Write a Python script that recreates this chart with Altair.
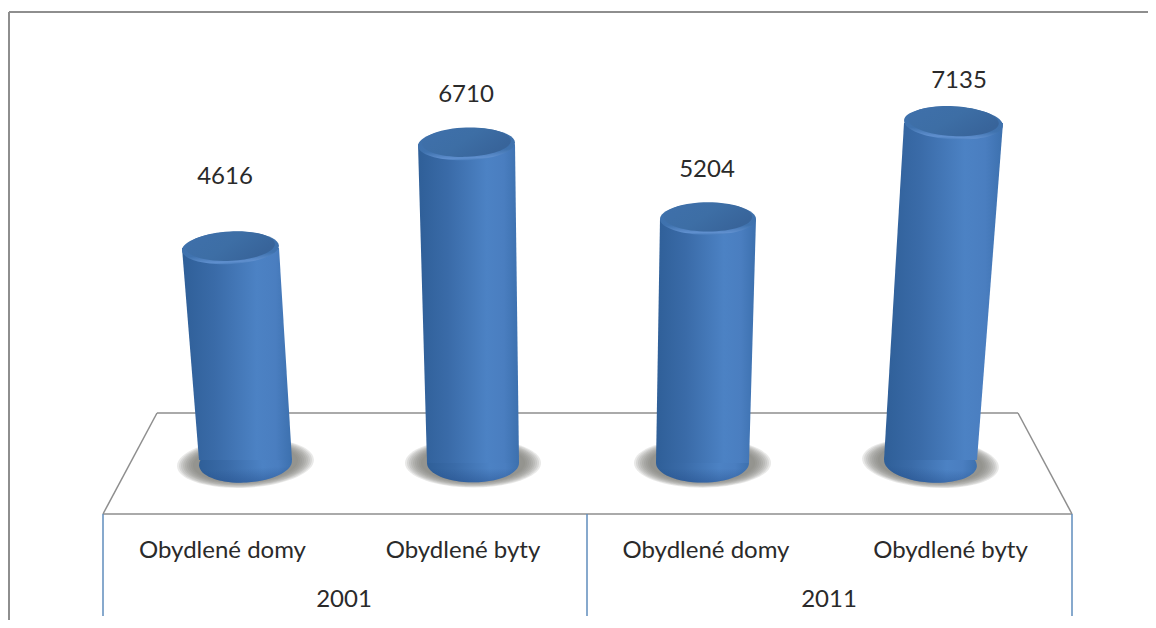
import altair as alt
import pandas as pd

# Values
years = ["2001", "2001", "2011", "2011"]
categories = ["Obydlené domy", "Obydlené byty", "Obydlené domy", "Obydlené byty"]
values = [4616, 6710, 5204, 7135]

W, H = 1140, 612
OX, OY = 8, 8  # page margin


def px(x):
    return x - OX


def py(y):
    return y - OY


# The picture's value axis (hidden): page y = 477 - 0.0496 * value
K = 0.0496
y_scale = alt.Scale(domain=[(477 - OY) / K, (477 - OY - H) / K], range=[0, H], nice=False, zero=False)
x_scale = alt.Scale(domain=[0, W], range=[0, W], nice=False, zero=False)
FLOOR = (477 - 463) / K

# Perspective geometry of each cylinder (page px)
top_left = [182, 418, 660, 904]
top_right = [279, 515, 756, 1003]
base_left = [199, 427, 656, 884]
base_right = [292, 519, 749, 977]
top_tilt = [-3, -2, 0, 3]
base_tilt = [-3, 0, 0, 4]
floor_lift = [3, 0, 0, 3]
label_x = [225, 466, 707, 959]
label_y = [177, 95, 170, 81]
cat_x = [222.5, 463, 706, 950.5]
year_x = [344, 829]

ELLIPSE_T = "M-1,0A1,0.33,0,1,1,1,0A1,0.33,0,1,1,-1,0Z"
ELLIPSE_B = "M-1,0A1,0.42,0,1,1,1,0A1,0.42,0,1,1,-1,0Z"
ELLIPSE_S = "M-1,0A1,0.36,0,1,1,1,0A1,0.36,0,1,1,-1,0Z"

body_grad = alt.LinearGradient(
    gradient="linear", x1=0, x2=1, y1=0, y2=0,
    stops=[
        alt.GradientStop(color="#2f5f98", offset=0),
        alt.GradientStop(color="#3a6ba8", offset=0.3),
        alt.GradientStop(color="#4c82c4", offset=0.68),
        alt.GradientStop(color="#4a7ec0", offset=0.85),
        alt.GradientStop(color="#3c70ae", offset=1),
    ],
)
rim_grad = alt.LinearGradient(
    gradient="linear", x1=0, x2=0, y1=0, y2=1,
    stops=[
        alt.GradientStop(color="#3d6fa9", offset=0),
        alt.GradientStop(color="#3f72ae", offset=0.7),
        alt.GradientStop(color="#5f8fce", offset=0.93),
        alt.GradientStop(color="#4a7ebd", offset=1),
    ],
)
cap_grad = alt.LinearGradient(
    gradient="linear", x1=0, x2=1, y1=0, y2=0.5,
    stops=[
        alt.GradientStop(color="#3f70ab", offset=0),
        alt.GradientStop(color="#3d6ea5", offset=0.55),
        alt.GradientStop(color="#38649a", offset=1),
    ],
)
bottom_grad = alt.LinearGradient(
    gradient="linear", x1=0, x2=0, y1=0, y2=1,
    stops=[
        alt.GradientStop(color="rgba(30,70,130,0)", offset=0.64),
        alt.GradientStop(color="rgba(30,70,130,0.4)", offset=1),
    ],
)

rows_body, rows_cap, rows_base, rows_shadow = [], [], [], []
for i, v in enumerate(values):
    rows_body.append(dict(bar=i, y=FLOOR + floor_lift[i] / K, l=px(base_left[i]), r=px(base_right[i])))
    rows_body.append(dict(bar=i, y=v, l=px(top_left[i]), r=px(top_right[i])))
    rows_cap.append(dict(bar=i, y=v, x=px((top_left[i] + top_right[i]) / 2),
                         s=(top_right[i] - top_left[i]) ** 2, a=(top_tilt[i] + 360) % 360))
    rows_base.append(dict(bar=i, y=FLOOR, x=px((base_left[i] + base_right[i]) / 2),
                          s=(base_right[i] - base_left[i]) ** 2, a=(base_tilt[i] + 360) % 360))
    # soft shadow: a stack of faint concentric ellipses
    for spread in (44, 40, 36, 32, 28, 24, 20, 16, 12):
        rows_shadow.append(dict(bar=i, y=FLOOR, x=px((base_left[i] + base_right[i]) / 2),
                                s=(base_right[i] - base_left[i] + spread) ** 2,
                                a=(base_tilt[i] + 360) % 360))

no_axis = dict(axis=None)
X = lambda f: alt.X(f, scale=x_scale, **no_axis)
Y = lambda f: alt.Y(f, scale=y_scale, **no_axis)


def seg(x1, y1, x2, y2, color, w):
    return alt.Chart(pd.DataFrame({"k": [0]})).mark_rule(color=color, strokeWidth=w).encode(
        x=alt.value(px(x1)), x2=alt.value(px(x2)), y=alt.value(py(y1)), y2=alt.value(py(y2))
    )


GRAY = "#8e8e8e"
BLUE = "#5f8cbc"
decor = [
    seg(9, 12, 1156, 12, GRAY, 2),
    seg(9, 12, 9, 628, GRAY, 2),
    seg(157, 413, 1018, 413, GRAY, 1.5),
    seg(157, 413, 103, 514, GRAY, 1.5),
    seg(1018, 413, 1072, 514, GRAY, 1.5),
    seg(103, 514, 1072, 514, GRAY, 1.5),
    seg(103, 514, 103, 616, BLUE, 1.5),
    seg(587, 514, 587, 616, BLUE, 1.5),
    seg(1072, 514, 1072, 616, BLUE, 1.5),
]

df_shadow = pd.DataFrame(rows_shadow)
shadow = alt.Chart(df_shadow).mark_point(filled=True, fill="#7f7b76", shape=ELLIPSE_S, opacity=0.17, strokeWidth=0).encode(
    x=X("x:Q"), y=Y("y:Q"), size=alt.Size("s:Q", scale=None, legend=None), angle=alt.Angle("a:Q", scale=None)
)

df_base = pd.DataFrame(rows_base)
base = alt.Chart(df_base).mark_point(filled=True, fill=body_grad, shape=ELLIPSE_B, opacity=1, strokeWidth=0).encode(
    x=X("x:Q"), y=Y("y:Q"), size=alt.Size("s:Q", scale=None, legend=None), angle=alt.Angle("a:Q", scale=None)
)
base_dark = alt.Chart(df_base).mark_point(filled=True, fill=bottom_grad, shape=ELLIPSE_B, opacity=1, strokeWidth=0).encode(
    x=X("x:Q"), y=Y("y:Q"), size=alt.Size("s:Q", scale=None, legend=None), angle=alt.Angle("a:Q", scale=None)
)

body = alt.Chart(pd.DataFrame(rows_body)).mark_area(orient="horizontal", fill=body_grad, opacity=1).encode(
    y=Y("y:Q"), x=X("l:Q"), x2="r:Q", detail="bar:N"
)

df_cap = pd.DataFrame(rows_cap)
rim = alt.Chart(df_cap).mark_point(filled=True, fill=rim_grad, shape=ELLIPSE_T, opacity=1, strokeWidth=0).encode(
    x=X("x:Q"), y=Y("y:Q"), size=alt.Size("s:Q", scale=None, legend=None), angle=alt.Angle("a:Q", scale=None)
)
df_cap2 = df_cap.assign(s=df_cap.s * 0.84)
cap = alt.Chart(df_cap2).mark_point(filled=True, fill=cap_grad, shape=ELLIPSE_T, opacity=1, strokeWidth=0, yOffset=-2).encode(
    x=X("x:Q"), y=Y("y:Q"), size=alt.Size("s:Q", scale=None, legend=None), angle=alt.Angle("a:Q", scale=None)
)

font = dict(font="Lato", fontSize=24, color="#2a2a2a", align="center", baseline="middle")
pix_scale = alt.Scale(domain=[0, H], range=[0, H], nice=False, zero=False)
val_df = pd.DataFrame({"t": [str(v) for v in values], "x": [px(a) for a in label_x], "py": [py(a) for a in label_y]})
val_text = alt.Chart(val_df).mark_text(**font).encode(
    x=X("x:Q"), y=alt.Y("py:Q", scale=pix_scale, axis=None), text="t:N"
)
cat_df = pd.DataFrame({"t": categories, "x": [px(a) for a in cat_x], "py": [py(551)] * 4})
cat_text = alt.Chart(cat_df).mark_text(**font).encode(
    x=X("x:Q"), y=alt.Y("py:Q", scale=pix_scale, axis=None), text="t:N"
)
year_df = pd.DataFrame({"t": ["2001", "2011"], "x": [px(a) for a in year_x], "py": [py(600)] * 2})
year_text = alt.Chart(year_df).mark_text(**font).encode(
    x=X("x:Q"), y=alt.Y("py:Q", scale=pix_scale, axis=None), text="t:N"
)

chart = alt.layer(*decor, shadow, base, base_dark, body, rim, cap, val_text, cat_text, year_text).resolve_scale(y="independent").properties(
    width=W, height=H, padding=0, background="white", autosize="none"
).configure_view(stroke=None)

chart.save("out.html", embed_options={"renderer": "svg", "actions": False})
